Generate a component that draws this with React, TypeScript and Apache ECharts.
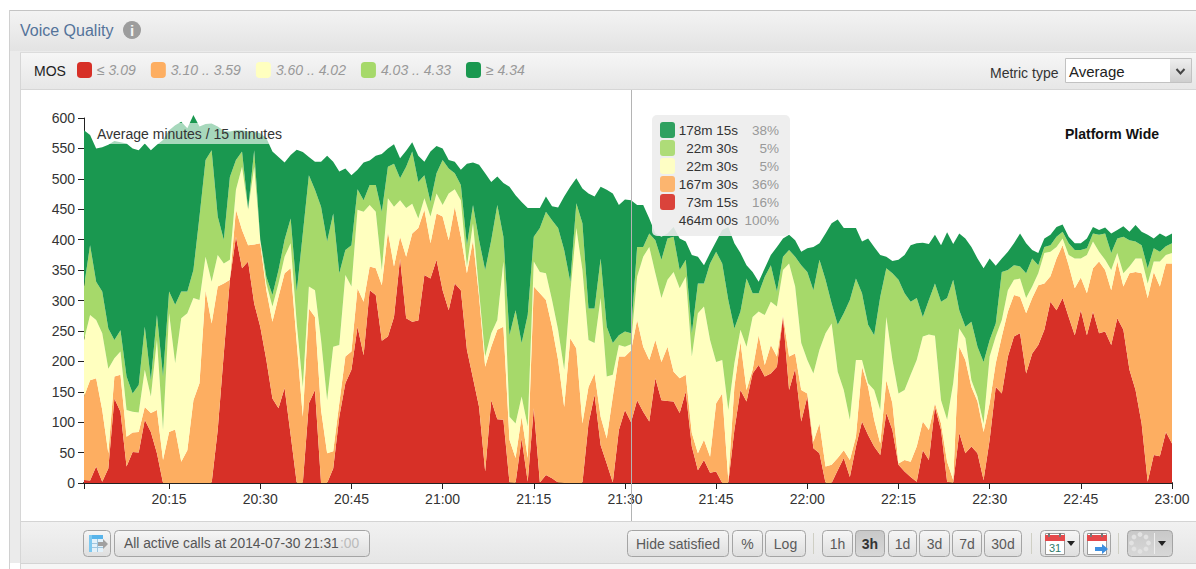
import React, { useEffect, useRef } from "react";
import * as echarts from "echarts";

// Minutes after midnight of each sample (20:01 .. 23:00) are index + START_MINUTE.
const START_MINUTE = 1201;
const CURSOR_INDEX = 90;

// Cumulative top of each MOS band (180 one-minute samples).
const topRed = [
  5, 4, 27, 2, 24, 139, 117, 27, 51, 50,
  104, 84, 49, 0, 0, 0, 0, 0, 0, 0,
  0, 0, 87, 213, 334, 405, 353, 364, 295, 257,
  202, 139, 123, 156, 79, 0, 0, 131, 153, 0,
  0, 24, 109, 164, 186, 257, 210, 317, 309, 234,
  241, 273, 369, 271, 265, 267, 342, 336, 367, 317,
  284, 328, 317, 219, 172, 125, 19, 136, 105, 104,
  1, 0, 73, 2, 123, 1, 13, 8, 1, 0,
  0, 0, 0, 98, 145, 62, 32, 1, 87, 120,
  100, 136, 117, 101, 172, 136, 135, 134, 115, 150,
  60, 21, 38, 17, 19, 0, 0, 87, 153, 134,
  180, 194, 175, 180, 191, 273, 153, 188, 101, 142,
  57, 49, 0, 0, 21, 41, 10, 60, 101, 79,
  60, 46, 115, 87, 30, 19, 10, 2, 54, 38,
  125, 87, 2, 0, 82, 49, 60, 49, 5, 71,
  158, 147, 208, 241, 246, 180, 213, 227, 252, 298,
  284, 304, 273, 243, 284, 243, 282, 246, 249, 227,
  271, 252, 186, 153, 98, 2, 46, 44, 84, 65,
];
const topOrange = [
  142, 169, 172, 120, 49, 175, 178, 76, 83, 84,
  125, 115, 120, 38, 84, 88, 35, 54, 136, 164,
  317, 262, 323, 328, 334, 449, 416, 391, 392, 394,
  317, 265, 306, 345, 353, 230, 109, 287, 273, 120,
  49, 52, 131, 208, 216, 320, 298, 356, 353, 325,
  413, 356, 405, 372, 410, 419, 449, 394, 443, 438,
  399, 454, 405, 345, 399, 306, 191, 224, 252, 257,
  71, 41, 109, 41, 323, 312, 301, 257, 202, 125,
  238, 221, 98, 158, 180, 109, 73, 142, 208, 208,
  218, 268, 224, 202, 235, 199, 224, 183, 172, 178,
  82, 49, 71, 43, 131, 147, 5, 158, 232, 153,
  186, 243, 194, 227, 208, 276, 208, 213, 153, 147,
  68, 98, 27, 30, 41, 54, 38, 76, 191, 158,
  104, 65, 169, 131, 32, 38, 35, 60, 101, 87,
  131, 98, 35, 5, 224, 202, 158, 134, 84, 131,
  197, 241, 282, 309, 306, 279, 304, 325, 328, 340,
  369, 391, 358, 320, 338, 312, 353, 364, 350, 317,
  364, 323, 345, 347, 345, 304, 347, 323, 361, 361,
];
const topYellow = [
  235, 276, 268, 246, 188, 205, 216, 120, 117, 116,
  186, 142, 235, 87, 279, 197, 271, 279, 304, 301,
  372, 331, 375, 361, 367, 482, 520, 449, 520, 400,
  328, 290, 328, 372, 394, 262, 158, 323, 317, 235,
  136, 224, 227, 342, 323, 449, 446, 457, 446, 350,
  468, 454, 465, 452, 459, 435, 468, 438, 476, 457,
  476, 483, 465, 356, 427, 315, 208, 246, 268, 364,
  109, 98, 142, 93, 364, 347, 345, 301, 252, 186,
  312, 419, 350, 235, 230, 304, 175, 178, 227, 224,
  228, 339, 372, 388, 345, 304, 334, 347, 320, 339,
  208, 279, 290, 235, 199, 202, 120, 197, 252, 224,
  273, 282, 276, 298, 290, 350, 361, 323, 230, 202,
  180, 219, 246, 262, 183, 153, 104, 202, 202, 164,
  153, 120, 273, 202, 147, 153, 178, 202, 241, 244,
  242, 136, 104, 164, 254, 238, 169, 142, 98, 208,
  241, 268, 317, 334, 336, 304, 323, 345, 378, 380,
  388, 402, 375, 369, 369, 375, 397, 380, 367, 350,
  378, 345, 356, 369, 369, 328, 364, 364, 375, 378,
];
const topLightGreen = [
  323, 391, 331, 315, 254, 235, 251, 175, 147, 161,
  257, 169, 276, 175, 315, 293, 315, 315, 350, 438,
  531, 547, 438, 400, 503, 531, 545, 451, 547, 400,
  339, 309, 350, 400, 435, 315, 410, 506, 482, 454,
  397, 443, 345, 383, 391, 483, 465, 490, 490, 446,
  520, 525, 501, 520, 545, 495, 506, 462, 509, 531,
  517, 509, 490, 391, 457, 399, 350, 399, 457, 405,
  243, 284, 230, 276, 405, 419, 446, 432, 419, 383,
  331, 460, 427, 287, 287, 369, 257, 230, 243, 249,
  246, 388, 388, 410, 399, 367, 402, 405, 350, 367,
  246, 328, 328, 361, 380, 361, 301, 254, 282, 336,
  312, 312, 339, 358, 315, 372, 383, 372, 358, 347,
  317, 367, 334, 295, 260, 279, 301, 336, 312, 260,
  243, 306, 353, 345, 334, 312, 298, 304, 273, 301,
  328, 298, 304, 334, 284, 257, 265, 224, 199, 235,
  262, 347, 350, 358, 356, 345, 369, 358, 388, 391,
  405, 413, 394, 383, 383, 386, 410, 408, 410, 378,
  402, 405, 399, 397, 391, 353, 386, 380, 389, 394,
];
const topTotal = [
  580, 572, 550, 552, 556, 562, 560, 558, 550, 547,
  558, 547, 556, 564, 580, 588, 594, 583, 605, 586,
  590, 591, 586, 579, 578, 580, 580, 578, 578, 575,
  567, 545, 536, 527, 539, 548, 544, 536, 528, 528,
  538, 528, 512, 517, 506, 515, 527, 530, 538, 541,
  550, 557, 534, 546, 560, 538, 528, 545, 554, 550,
  531, 528, 515, 525, 527, 523, 509, 495, 504, 493,
  487, 473, 462, 452, 452, 452, 471, 455, 453, 471,
  487, 501, 484, 476, 471, 487, 482, 476, 457, 466,
  465, 457, 457, 435, 410, 405, 410, 421, 402, 397,
  375, 372, 358, 378, 397, 416, 421, 394, 378, 358,
  347, 331, 353, 375, 388, 402, 408, 399, 380, 386,
  388, 394, 410, 427, 433, 419, 419, 419, 397, 402,
  388, 375, 372, 365, 367, 375, 391, 394, 395, 393,
  408, 391, 412, 393, 410, 402, 388, 369, 353, 369,
  357, 369, 380, 394, 410, 394, 383, 378, 402, 408,
  421, 425, 405, 394, 394, 402, 421, 416, 420, 410,
  416, 422, 413, 424, 413, 408, 402, 410, 405, 410,
];

const bandNames = ["≤ 3.09", "3.10 .. 3.59", "3.60 .. 4.02", "4.03 .. 4.33", "≥ 4.34"];
const bandColors = ["#d73027", "#fdae61", "#ffffbf", "#a6d96a", "#1a9850"];
const bandTops = [topRed, topOrange, topYellow, topLightGreen, topTotal];

const yMax = 600;
const yInterval = 50;

const readoutRows = [
  ["178m 15s", "38%", "#1a9850"],
  ["22m 30s", "5%", "#a6d96a"],
  ["22m 30s", "5%", "#ffffbf"],
  ["167m 30s", "36%", "#fdae61"],
  ["73m 15s", "16%", "#d73027"],
  ["464m 00s", "100%", ""],
];

const textButtons: [number, number, string, boolean][] = [
  [627, 101, "Hide satisfied", false],
  [732, 30, "%", false],
  [765, 40, "Log", false],
  [822, 30, "1h", false],
  [855, 29, "3h", true],
  [888, 28, "1d", false],
  [919, 30, "3d", false],
  [952, 29, "7d", false],
  [984, 37, "30d", false],
];

const spinnerDots = [
  [1140, 534.5], [1146, 537], [1148.5, 543], [1146, 549],
  [1140, 551.5], [1134, 549], [1131.5, 543], [1134, 537],
];

const FONT = '"Liberation Sans", Arial, sans-serif';
const grid = { left: 84, top: 118, width: 1088, height: 365 };

function hhmm(minute: number) {
  const h = Math.floor(minute / 60);
  const m = minute % 60;
  return `${h}:${String(m).padStart(2, "0")}`;
}
const categories = topTotal.map((_, i) => hhmm(START_MINUTE + i));

function label(text: string, x: number, y: number, size: number, fill: string, extra: any = {}) {
  const { align, weight, italic, z } = extra;
  return {
    type: "text",
    z: z ?? -1,
    style: {
      text,
      x,
      y,
      fill,
      textAlign: align ?? "left",
      textVerticalAlign: "middle",
      font: `${italic ? "italic " : ""}${weight ?? "normal"} ${size}px ${FONT}`,
    },
  };
}

function box(x: number, y: number, w: number, h: number, fill: any, extra: any = {}) {
  return {
    type: "rect",
    z: extra.z ?? -2,
    shape: { x, y, width: w, height: h, r: extra.r ?? 0 },
    style: { fill, stroke: extra.stroke, lineWidth: extra.stroke ? 1 : 0, opacity: extra.opacity ?? 1 },
  };
}

const vGrad = (a: string, b: string) =>
  new echarts.graphic.LinearGradient(0, 0, 0, 1, [
    { offset: 0, color: a },
    { offset: 1, color: b },
  ]);

function rule(x1: number, y1: number, x2: number, y2: number, stroke: string, z = -2) {
  return { type: "line", z, shape: { x1, y1, x2, y2 }, style: { stroke, lineWidth: 1 } };
}

function button(x: number, w: number, pressed = false) {
  return box(x + 0.5, 530.5, w, 26, pressed ? vGrad("#c8c8c8", "#d8d8d8") : vGrad("#f6f6f6", "#dedede"), {
    r: 4,
    stroke: "#a4a4a4",
    z: -1,
  });
}

function calendar(x: number, y: number, num: boolean, arrow: boolean) {
  const items: any[] = [
    box(x + 0.5, y + 0.5, 19, 21, "#ffffff", { stroke: "#9a9a9a", z: 1 }),
    box(x, y + 2, 20, 6, "#e5484a", { z: 1 }),
    box(x + 3, y, 2, 4, "#777", { z: 1 }),
    box(x + 14, y, 2, 4, "#777", { z: 1 }),
  ];
  if (num) items.push(label("31", x + 10, y + 15, 11, "#2d7a6a", { align: "center", z: 1 }));
  if (arrow) {
    items.push({
      type: "polygon",
      z: 1,
      shape: {
        points: [
          [x + 8, y + 14], [x + 15, y + 14], [x + 15, y + 11], [x + 21, y + 16],
          [x + 15, y + 21], [x + 15, y + 18], [x + 8, y + 18],
        ],
      },
      style: { fill: "#3d8fe0" },
    });
  }
  return items;
}

function caret(x: number) {
  return { type: "polygon", z: 1, shape: { points: [[x, 541], [x + 8, 541], [x + 4, 546]] }, style: { fill: "#222" } };
}

function buildGraphic() {
  const cursorX = Math.round(grid.left + (CURSOR_INDEX / (categories.length - 1)) * grid.width) + 0.5;
  const els: any[] = [
    // Frame
    box(0, 0, 1196, 569, "#ffffff", { z: -3 }),
    box(9, 10, 1187, 553, "#ebebeb", { z: -3 }),
    rule(9, 10.5, 1196, 10.5, "#c4c4c4"),
    rule(9.5, 10, 9.5, 569, "#d0d0d0"),
    box(10, 11, 1186, 40, vGrad("#f3f3f3", "#e3e3e3")),
    box(20, 53, 1176, 36, vGrad("#f6f6f6", "#e7e7e7")),
    rule(20, 52.5, 1196, 52.5, "#dcdcdc"),
    rule(20, 89.5, 1196, 89.5, "#d6d6d6"),
    rule(20.5, 53, 20.5, 569, "#d6d6d6"),
    box(21, 90, 1175, 431, "#ffffff"),
    box(21, 522, 1175, 41, vGrad("#f1f1f1", "#e6e6e6")),
    rule(21, 521.5, 1196, 521.5, "#d4d4d4"),
    rule(21, 563.5, 1196, 563.5, "#d4d4d4"),
    box(21, 564, 1175, 5, "#f6f6f6"),
    // Header
    label("Voice Quality", 20, 30, 16, "#54739a"),
    { type: "circle", z: -1, shape: { cx: 132, cy: 30, r: 9 }, style: { fill: "#9d9d9d" } },
    label("i", 132, 30.5, 15, "#f4f4f4", { align: "center", weight: "bold" }),
    label("MOS", 34, 71, 14, "#222222"),
    label("Metric type", 990, 72.5, 14, "#333333"),
    box(1065.5, 58.5, 126, 24, "#ffffff", { stroke: "#c2c2c2", z: -1 }),
    box(1170, 59, 21, 23, vGrad("#eeeeee", "#cfcfcf"), { z: -1 }),
    {
      type: "polyline",
      z: -1,
      shape: { points: [[1176.5, 69], [1180.5, 73.5], [1184.5, 69]] },
      style: { stroke: "#444", lineWidth: 2, fill: "none" },
    },
    label("Average", 1069, 71.5, 15, "#222222"),
    // Chart notes, above the areas
    box(97, 123, 184, 21, "rgba(255,255,255,0.62)", { z: 8 }),
    label("Average minutes / 15 minutes", 97, 134, 14, "#333333", { z: 9 }),
    label("Platform Wide", 1065, 134, 14, "#111111", { weight: "bold", z: 9 }),
    // Cursor
    rule(cursorX, 90, cursorX, 521, "#b4b4b4", 7),
    // Read-out
    box(652, 115, 138, 121, "rgba(236,236,236,0.9)", { r: 5, z: 8 }),
    // Toolbar
    button(83, 27),
    box(89, 535, 14, 17, "#e3f1fa", { z: 1 }),
    box(89, 535, 14, 4, "#58b4ea", { z: 1 }),
    box(89, 535, 3, 17, "#7cc8f0", { z: 1 }),
    rule(92, 543.5, 103, 543.5, "#9fc6df", 1),
    rule(92, 547.5, 103, 547.5, "#9fc6df", 1),
    rule(97.5, 539, 97.5, 552, "#9fc6df", 1),
    {
      type: "polygon",
      z: 1,
      shape: { points: [[98, 542], [103, 542], [103, 539], [108, 544], [103, 549], [103, 546], [98, 546]] },
      style: { fill: "#a0a0a0" },
    },
    button(114, 255),
    label("All active calls at 2014-07-30 21:31", 124, 543, 13.8, "#555555"),
    label(":00", 340, 543, 13.8, "#bbbbbb"),
    button(1040, 39),
    button(1083, 27),
    ...calendar(1045, 533, true, false),
    caret(1067),
    ...calendar(1087, 533, false, true),
    button(1127, 45, true),
    caret(1158),
    rule(1154.5, 533, 1154.5, 554, "#eeeeee", 1),
  ];
  spinnerDots.forEach(([cx, cy]) =>
    els.push({ type: "circle", z: 1, shape: { cx, cy, r: 2.4 }, style: { fill: "#e2e2e2" } })
  );
  [813.5, 1031.5, 1118.5].forEach((x) => els.push(rule(x, 533, x, 554, "#cfcfc4", -1)));
  textButtons.forEach(([x, w, text, pressed]) => {
    els.push(button(x, w, pressed));
    els.push(
      label(text, x + w / 2 + 0.5, 543.5, 14, pressed ? "#333333" : "#5a5a5a", {
        align: "center",
        weight: pressed ? "bold" : "normal",
      })
    );
  });
  readoutRows.forEach(([time, pct, color], i) => {
    const y = 130 + i * 18;
    if (color) els.push(box(660, y - 8, 15, 16, color, { r: 3, z: 9, opacity: 0.9 }));
    els.push(label(time, 738, y, 13.5, "#333333", { align: "right", z: 9 }));
    els.push(label(pct, 779, y, 13.5, "#999999", { align: "right", z: 9 }));
  });
  return els;
}

const isQuarter = (i: number) => (START_MINUTE + i) % 15 === 0;

export default function App() {
  const ref = useRef<HTMLDivElement>(null);
  useEffect(() => {
    document.body.style.margin = "0";
    const chart = echarts.init(ref.current!, undefined, { renderer: "svg" });
    const series = bandNames.map((name, b) => ({
      name,
      type: "line",
      stack: "mos",
      symbol: "none",
      showSymbol: false,
      clip: false,
      lineStyle: { width: 0 },
      itemStyle: { color: bandColors[b] },
      areaStyle: { color: bandColors[b], opacity: 1 },
      emphasis: { disabled: true },
      silent: true,
      data: bandTops[b].map((top, i) => (b === 0 ? top : Math.max(0, top - bandTops[b - 1][i]))),
    }));
    chart.setOption({
      animation: false,
      backgroundColor: "transparent",
      textStyle: { fontFamily: FONT },
      grid: { ...grid, containLabel: false },
      legend: {
        left: 72,
        top: 57,
        itemWidth: 15,
        itemHeight: 16,
        itemGap: 15,
        itemStyle: { borderWidth: 0 },
        icon: "roundRect",
        selectedMode: false,
        data: bandNames,
        textStyle: { color: "#999999", fontStyle: "italic", fontSize: 14, fontFamily: FONT },
      },
      xAxis: {
        type: "category",
        boundaryGap: false,
        data: categories,
        splitLine: { show: false },
        axisLine: { show: true, onZero: false, lineStyle: { color: "#222222", width: 2 } },
        axisTick: {
          show: true,
          length: 6,
          lineStyle: { color: "#222222" },
          interval: (i: number) => i === 0 || isQuarter(i),
        },
        axisLabel: {
          color: "#333333",
          fontSize: 14,
          margin: 9,
          fontFamily: FONT,
          interval: (i: number) => isQuarter(i),
        },
      },
      yAxis: {
        type: "value",
        min: 0,
        max: yMax,
        interval: yInterval,
        splitLine: { show: false },
        axisLine: { show: true, lineStyle: { color: "#222222", width: 1 } },
        axisTick: { show: true, length: 6, lineStyle: { color: "#222222" } },
        axisLabel: { color: "#333333", fontSize: 14, margin: 9, fontFamily: FONT },
      },
      series,
      graphic: { elements: buildGraphic() },
    });
    return () => chart.dispose();
  }, []);
  return <div ref={ref} style={{ position: "absolute", left: 0, top: 0, width: 1196, height: 569 }} />;
}
